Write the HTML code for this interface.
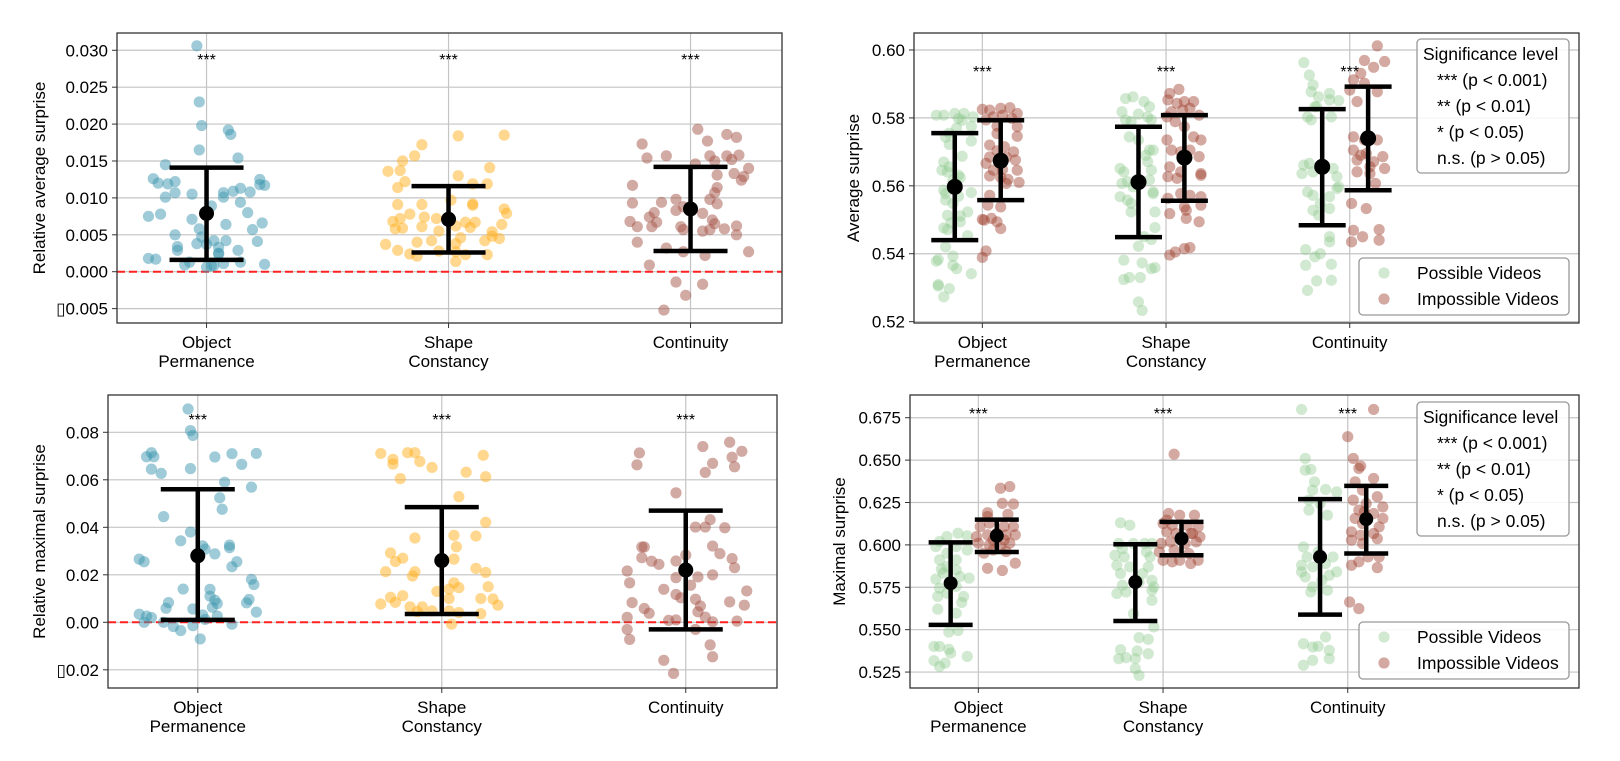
<!DOCTYPE html>
<html><head><meta charset="utf-8"><style>
html,body{margin:0;padding:0;background:#fff;}
svg{display:block;font-family:"Liberation Sans","DejaVu Sans",sans-serif;}
</style></head>
<body>
<svg id="fig" width="1620" height="761" viewBox="0 0 1620 761" xmlns="http://www.w3.org/2000/svg"></svg>
<script>
const categories = [["Object","Permanence"],["Shape","Constancy"],["Continuity"]];
const starLabels = ["***","***","***"];

const p1OpVals = [0.0306,0.0230,0.0198,0.0192,0.0186,0.0165,0.0154,0.0145,0.0126,0.0120,0.0119,0.0122,0.0125,0.0118,0.0117,0.0107,0.0101,0.0105,0.0107,0.0109,0.0113,0.0108,0.0101,0.0094,0.0089,0.0080,0.0075,0.0078,0.0071,0.0064,0.0066,0.0057,0.0058,0.0050,0.0047,0.0038,0.0042,0.0042,0.0041,0.0034,0.0029,0.0037,0.0033,0.0029,0.0025,0.0024,0.0018,0.0017,0.0013,0.0009,0.0006,0.0008,0.0011,0.0013,0.0010,0.0008];
const p1OpJit = [-0.04,-0.03,-0.02,0.09,0.10,-0.03,0.13,-0.17,-0.22,-0.20,-0.16,-0.13,0.22,0.22,0.24,-0.13,-0.17,-0.06,0.07,0.11,0.14,0.18,0.07,0.14,0.02,0.17,-0.24,-0.19,-0.06,0.08,0.23,0.19,-0.03,-0.13,-0.02,-0.04,0.03,0.08,0.21,-0.12,-0.12,0.0,0.05,0.13,0.05,0.05,-0.24,-0.21,-0.07,-0.09,0.0,0.03,0.07,0.14,0.24,0.02];
const p1ScVals = [0.0184,0.0185,0.0172,0.0157,0.0150,0.0136,0.0137,0.0141,0.0130,0.0122,0.0114,0.0119,0.0119,0.0097,0.0091,0.0091,0.0092,0.0090,0.0085,0.0079,0.0078,0.0068,0.0072,0.0074,0.0072,0.0058,0.0059,0.0061,0.0062,0.0067,0.0067,0.0060,0.0064,0.0055,0.0054,0.0048,0.0045,0.0046,0.0037,0.0040,0.0042,0.0038,0.0042,0.0029,0.0024,0.0021,0.0028,0.0027,0.0023,0.0023,0.0014];
const p1ScJit = [0.04,0.23,-0.11,-0.14,-0.19,-0.25,-0.20,0.17,0.04,-0.18,-0.21,0.10,0.16,0.01,-0.21,-0.11,0.10,0.10,0.23,0.24,-0.16,-0.23,-0.20,-0.10,-0.05,-0.22,-0.19,-0.11,0.03,0.07,0.11,0.09,0.22,-0.04,0.18,0.18,0.21,0.05,-0.26,-0.13,-0.07,0.03,0.15,-0.21,-0.16,-0.13,-0.04,0.03,0.07,0.16,0.03];
const p1CoVals = [0.0193,0.0186,0.0182,0.0173,0.0177,0.0154,0.0157,0.0157,0.0150,0.0157,0.0152,0.0158,0.0146,0.0140,0.0131,0.0133,0.0129,0.0124,0.0117,0.0114,0.0107,0.0098,0.0098,0.0094,0.0093,0.0092,0.0083,0.0088,0.0080,0.0079,0.0074,0.0068,0.0067,0.0070,0.0065,0.0061,0.0061,0.0061,0.0057,0.0055,0.0057,0.0058,0.0062,0.0050,0.0040,0.0032,0.0027,0.0022,0.0027,0.0009,-0.0014,-0.0017,-0.0032,-0.0052];
const p1CoJit = [0.03,0.15,0.19,-0.20,0.07,-0.18,-0.10,0.08,0.10,0.15,0.17,0.20,0.02,0.24,0.11,0.18,0.22,0.21,-0.24,0.11,0.10,0.08,-0.06,-0.12,-0.24,0.11,-0.06,-0.03,-0.15,0.05,-0.17,-0.25,-0.14,0.09,0.10,-0.22,-0.16,-0.04,-0.03,0.05,0.08,0.14,0.19,0.19,-0.22,-0.10,-0.03,0.06,0.24,-0.17,-0.06,0.05,-0.02,-0.11];
const p1Means = [0.0079,0.0071,0.0085];
const p1Lo = [0.0016,0.0026,0.0028];
const p1Hi = [0.0141,0.0116,0.0142];

const p3OpVals = [0.0898,0.0807,0.0787,0.0714,0.0697,0.0697,0.0645,0.0627,0.0647,0.0696,0.0710,0.0711,0.0665,0.0590,0.0569,0.0524,0.0476,0.0445,0.0380,0.0343,0.0322,0.0308,0.0288,0.0325,0.0314,0.0255,0.0234,0.0266,0.0255,0.0181,0.0159,0.0140,0.0139,0.0110,0.0093,0.0079,0.0063,0.0083,0.0059,0.0096,0.0082,0.0056,0.0043,0.0034,0.0026,0.0020,0.0000,0.0000,-0.0018,-0.0035,-0.0014,0.0031,0.0012,0.0026,-0.0008,-0.0070];
const p3OpJit = [-0.04,-0.03,-0.02,-0.19,-0.21,-0.18,-0.19,-0.15,-0.03,0.07,0.14,0.24,0.18,0.11,0.22,0.09,0.10,-0.14,-0.03,-0.07,0.02,0.03,0.07,0.13,0.13,0.16,0.14,-0.24,-0.22,0.22,0.23,-0.06,0.05,0.05,0.07,0.08,0.06,-0.12,-0.13,0.21,0.20,-0.02,0.24,-0.24,-0.21,-0.19,-0.22,-0.14,-0.10,-0.07,-0.02,0.02,0.03,0.08,0.14,0.01];
const p3ScVals = [0.0714,0.0714,0.0711,0.0686,0.0666,0.0677,0.0652,0.0703,0.0632,0.0613,0.0605,0.0529,0.0421,0.0355,0.0366,0.0363,0.0318,0.0292,0.0270,0.0256,0.0266,0.0227,0.0210,0.0213,0.0213,0.0195,0.0166,0.0146,0.0150,0.0130,0.0140,0.0105,0.0112,0.0100,0.0100,0.0098,0.0072,0.0077,0.0084,0.0065,0.0065,0.0048,0.0041,0.0036,0.0045,0.0048,-0.0008];
const p3ScJit = [-0.14,-0.11,-0.25,-0.20,-0.20,-0.09,-0.04,0.17,0.10,0.18,-0.17,0.07,0.18,-0.11,0.05,0.14,0.06,-0.21,-0.16,-0.19,0.05,0.14,0.18,-0.23,-0.11,-0.12,0.05,0.07,0.19,-0.02,0.03,-0.21,-0.16,0.03,0.16,0.21,0.23,-0.25,-0.19,-0.13,-0.08,0.03,0.07,0.16,-0.10,-0.04,0.04];
const p3CoVals = [0.0758,0.0740,0.0720,0.0695,0.0713,0.0663,0.0669,0.0631,0.0655,0.0545,0.0432,0.0401,0.0401,0.0398,0.0317,0.0317,0.0321,0.0289,0.0268,0.0230,0.0272,0.0257,0.0244,0.0258,0.0283,0.0216,0.0166,0.0188,0.0191,0.0200,0.0139,0.0117,0.0103,0.0156,0.0097,0.0069,0.0044,0.0086,0.0072,0.0132,0.0083,0.0058,0.0038,0.0021,0.0008,0.0010,0.0022,0.0002,0.0005,-0.0030,-0.0030,-0.0072,-0.0095,-0.0145,-0.0160,-0.0215];
const p3CoJit = [0.18,0.07,0.23,0.19,-0.19,-0.20,0.11,0.08,0.20,-0.04,0.10,0.04,0.08,0.16,-0.18,-0.17,0.11,0.14,0.19,0.20,-0.18,-0.14,-0.11,-0.04,0.0,-0.24,-0.23,-0.04,0.05,0.11,-0.09,-0.04,-0.02,0.02,0.04,0.06,0.05,0.18,0.24,0.25,-0.22,-0.17,-0.15,-0.24,-0.07,-0.04,0.08,0.11,0.21,0.04,-0.24,-0.23,0.10,0.11,-0.09,-0.05];
const p3Means = [0.028,0.026,0.022];
const p3Lo = [0.001,0.0035,-0.003];
const p3Hi = [0.056,0.0485,0.047];

const p2OpPossVals = [0.5808,0.5808,0.5813,0.5813,0.5803,0.5798,0.5793,0.5775,0.5770,0.5755,0.5743,0.5732,0.5722,0.5687,0.5670,0.5656,0.5641,0.5631,0.5624,0.5617,0.5587,0.5577,0.5580,0.5569,0.5558,0.5548,0.5523,0.5511,0.5513,0.5491,0.5476,0.5471,0.5494,0.5453,0.5420,0.5383,0.5378,0.5393,0.5366,0.5356,0.5341,0.5309,0.5305,0.5297,0.5273,0.5646];
const p2OpPossJit = [-0.25,-0.21,-0.15,-0.10,-0.05,-0.13,-0.11,-0.06,-0.14,-0.18,-0.20,-0.06,-0.18,-0.11,-0.21,-0.18,-0.19,-0.13,-0.12,-0.16,-0.21,-0.20,-0.06,-0.13,-0.20,-0.16,-0.08,-0.12,-0.19,-0.17,-0.21,-0.19,-0.12,-0.08,-0.20,-0.24,-0.25,-0.16,-0.16,-0.14,-0.06,-0.24,-0.24,-0.18,-0.21,-0.22];
const p2OpImpVals = [0.5825,0.5823,0.5828,0.5830,0.5813,0.5803,0.5808,0.5794,0.5799,0.5774,0.5776,0.5746,0.5720,0.5715,0.5703,0.5700,0.5685,0.5684,0.5676,0.5668,0.5666,0.5646,0.5648,0.5646,0.5629,0.5625,0.5619,0.5610,0.5607,0.5572,0.5543,0.5538,0.5499,0.5504,0.5494,0.5474,0.5501,0.5408,0.5389,0.5754];
const p2OpImpJit = [0.00,0.04,0.10,0.15,0.19,0.06,0.11,0.02,0.16,0.19,0.08,0.19,0.04,0.12,0.08,0.17,0.04,0.13,0.18,0.09,0.02,0.06,0.11,0.19,0.04,0.10,0.14,0.20,0.13,0.04,0.03,0.10,0.01,0.05,0.08,0.10,0.00,0.02,0.00,0.08];
const p2ScPossVals = [0.5857,0.5862,0.5848,0.5833,0.5818,0.5811,0.5803,0.5794,0.5789,0.5794,0.5744,0.5735,0.5705,0.5705,0.5690,0.5671,0.5651,0.5641,0.5646,0.5612,0.5607,0.5617,0.5582,0.5568,0.5558,0.5548,0.5577,0.5523,0.5523,0.5477,0.5450,0.5442,0.5422,0.5381,0.5373,0.5356,0.5359,0.5324,0.5330,0.5330,0.5258,0.5233,0.5597];
const p2ScPossJit = [-0.22,-0.18,-0.12,-0.09,-0.24,-0.15,-0.10,-0.22,-0.19,-0.08,-0.20,-0.15,-0.09,-0.07,-0.11,-0.10,-0.25,-0.23,-0.08,-0.21,-0.24,-0.09,-0.07,-0.25,-0.21,-0.19,-0.07,-0.19,-0.06,-0.06,-0.12,-0.08,-0.15,-0.23,-0.13,-0.08,-0.06,-0.23,-0.20,-0.14,-0.15,-0.13,-0.18];
const p2ScImpVals = [0.5872,0.5884,0.5853,0.5843,0.5848,0.5848,0.5818,0.5823,0.5828,0.5808,0.5803,0.5789,0.5774,0.5744,0.5735,0.5735,0.5705,0.5700,0.5705,0.5686,0.5656,0.5641,0.5636,0.5627,0.5622,0.5631,0.5577,0.5572,0.5568,0.5563,0.5528,0.5518,0.5504,0.5494,0.5396,0.5405,0.5415,0.5418,0.5543,0.5538];
const p2ScImpJit = [0.02,0.07,0.01,0.06,0.10,0.15,0.03,0.09,0.13,0.18,0.005,0.05,0.10,0.15,0.19,0.005,0.03,0.08,0.13,0.18,0.02,0.08,0.19,0.01,0.06,0.19,0.08,0.13,0.19,0.01,0.11,0.02,0.11,0.18,0.02,0.05,0.10,0.13,0.19,0.10];
const p2CoPossVals = [0.5963,0.5926,0.5897,0.5877,0.5862,0.5872,0.5853,0.5851,0.5833,0.5803,0.5803,0.5833,0.5794,0.5661,0.5666,0.5641,0.5651,0.5627,0.5582,0.5572,0.5568,0.5597,0.5548,0.5528,0.5533,0.5514,0.5450,0.5435,0.5412,0.5400,0.5391,0.5366,0.5369,0.5320,0.5322,0.5292,0.5592,0.5636];
const p2CoPossJit = [-0.25,-0.22,-0.20,-0.21,-0.17,-0.11,-0.11,-0.06,-0.18,-0.23,-0.10,-0.19,-0.21,-0.25,-0.22,-0.20,-0.09,-0.07,-0.23,-0.20,-0.11,-0.06,-0.16,-0.20,-0.11,-0.17,-0.11,-0.11,-0.24,-0.16,-0.19,-0.24,-0.10,-0.18,-0.10,-0.23,-0.07,-0.26];
const p2CoImpVals = [0.6012,0.5969,0.5966,0.5949,0.5931,0.5912,0.5902,0.5882,0.5877,0.5848,0.5744,0.5735,0.5735,0.5705,0.5695,0.5686,0.5676,0.5671,0.5651,0.5641,0.5636,0.5607,0.5548,0.5533,0.5469,0.5471,0.5450,0.5435,0.5440,0.5690,0.5656];
const p2CoImpJit = [0.15,0.08,0.19,0.13,0.06,0.02,0.08,0.00,0.15,0.04,0.02,0.08,0.15,0.02,0.09,0.18,0.04,0.13,0.19,0.04,0.11,0.14,0.01,0.09,0.02,0.16,0.07,0.01,0.16,0.06,0.11];
const p2PossMeans = [0.5597,0.5611,0.5656];
const p2PossLo = [0.5440,0.5449,0.5484];
const p2PossHi = [0.5755,0.5774,0.5826];
const p2ImpMeans = [0.5674,0.5683,0.5740];
const p2ImpLo = [0.5558,0.5556,0.5587];
const p2ImpHi = [0.5793,0.5808,0.5892];

const p4OpPossVals = [0.6069,0.6049,0.6053,0.6020,0.5990,0.5990,0.5951,0.5970,0.5912,0.5912,0.5872,0.5857,0.5853,0.5798,0.5813,0.5804,0.5745,0.5715,0.5755,0.5696,0.5696,0.5660,0.5621,0.5597,0.5486,0.5495,0.5401,0.5401,0.5385,0.5362,0.5342,0.5317,0.5303,0.5283,0.5833];
const p4OpPossJit = [-0.11,-0.17,-0.06,-0.21,-0.23,-0.12,-0.17,-0.06,-0.21,-0.12,-0.17,-0.20,-0.12,-0.23,-0.10,-0.05,-0.21,-0.17,-0.12,-0.22,-0.08,-0.09,-0.22,-0.12,-0.16,-0.11,-0.24,-0.21,-0.16,-0.15,-0.06,-0.24,-0.18,-0.21,-0.19];
const p4OpImpVals = [0.6334,0.6344,0.6190,0.6245,0.6241,0.6108,0.6128,0.6108,0.6108,0.6049,0.6059,0.6069,0.6059,0.6059,0.6010,0.6000,0.5990,0.6010,0.5951,0.5970,0.5961,0.5862,0.5849,0.5892,0.6029,0.6029,0.6167,0.6181];
const p4OpImpJit = [0.12,0.17,0.05,0.13,0.19,0.01,0.06,0.14,0.19,-0.01,0.05,0.10,0.15,0.20,0.00,0.06,0.12,0.17,0.03,0.08,0.15,0.05,0.13,0.20,0.08,0.14,0.05,0.16];
const p4ScPossVals = [0.6130,0.6116,0.6008,0.6008,0.6008,0.6008,0.5978,0.5959,0.5939,0.5929,0.5929,0.5880,0.5870,0.5870,0.5831,0.5791,0.5781,0.5762,0.5752,0.5713,0.5722,0.5673,0.5594,0.5516,0.5453,0.5443,0.5382,0.5374,0.5358,0.5329,0.5335,0.5329,0.5270,0.5230,0.5732,0.5831];
const p4ScPossJit = [-0.23,-0.18,-0.24,-0.16,-0.10,-0.06,-0.22,-0.09,-0.26,-0.21,-0.07,-0.25,-0.18,-0.08,-0.23,-0.06,-0.13,-0.22,-0.05,-0.25,-0.20,-0.06,-0.16,-0.05,-0.13,-0.08,-0.23,-0.14,-0.08,-0.24,-0.20,-0.15,-0.15,-0.13,-0.06,-0.11];
const p4ScImpVals = [0.6535,0.6185,0.6175,0.6175,0.6126,0.6116,0.6116,0.6106,0.6077,0.6067,0.6067,0.6047,0.6008,0.6018,0.6008,0.6018,0.5909,0.5900,0.5909,0.5890,0.5909,0.5959,0.5969,0.5949,0.6146,0.6067];
const p4ScImpJit = [0.06,0.03,0.09,0.17,0.00,0.05,0.13,0.19,0.02,0.07,0.15,0.20,-0.01,0.04,0.12,0.18,0.00,0.05,0.09,0.15,0.19,-0.02,0.06,0.14,0.02,0.16];
const p4CoPossVals = [0.6799,0.6510,0.6441,0.6445,0.6372,0.6323,0.6327,0.6313,0.6264,0.6244,0.6175,0.6205,0.5988,0.5929,0.5880,0.5870,0.5890,0.5929,0.5841,0.5811,0.5791,0.5821,0.5752,0.5732,0.5722,0.5457,0.5417,0.5398,0.5402,0.5378,0.5329,0.5319,0.5290,0.5841,0.5959];
const p4CoPossJit = [-0.25,-0.23,-0.23,-0.20,-0.18,-0.19,-0.12,-0.06,-0.21,-0.15,-0.11,-0.21,-0.24,-0.22,-0.25,-0.19,-0.12,-0.08,-0.06,-0.23,-0.14,-0.10,-0.19,-0.11,-0.20,-0.12,-0.24,-0.19,-0.16,-0.10,-0.10,-0.19,-0.24,-0.25,-0.16];
const p4CoImpVals = [0.6799,0.6638,0.6510,0.6451,0.6465,0.6392,0.6372,0.6323,0.6284,0.6264,0.6244,0.6224,0.6205,0.6185,0.6156,0.6156,0.6126,0.6106,0.6077,0.6057,0.6067,0.6028,0.6008,0.6037,0.5929,0.5929,0.5900,0.5880,0.5866,0.5663,0.5624,0.6195];
const p4CoImpJit = [0.14,0.00,0.03,0.06,0.07,0.14,0.04,0.08,0.16,0.03,0.10,0.19,0.06,0.14,0.04,0.19,0.08,0.17,0.02,0.07,0.14,0.02,0.08,0.16,0.11,0.17,0.06,0.02,0.16,0.01,0.06,0.09];
const p4PossMeans = [0.5774,0.5781,0.5929];
const p4PossLo = [0.5528,0.5551,0.5589];
const p4PossHi = [0.6015,0.6004,0.6270];
const p4ImpMeans = [0.6054,0.6037,0.6152];
const p4ImpLo = [0.5958,0.5939,0.5949];
const p4ImpHi = [0.6149,0.6136,0.6348];

const p1Ticks = [-0.005,0.000,0.005,0.010,0.015,0.020,0.025,0.030];
const p3Ticks = [-0.02,0.00,0.02,0.04,0.06,0.08];
const p2Ticks = [0.52,0.54,0.56,0.58,0.60];
const p4Ticks = [0.525,0.550,0.575,0.600,0.625,0.650,0.675];
const sigLegendRows = ["*** (p < 0.001)","** (p < 0.01)","* (p < 0.05)","n.s. (p > 0.05)"];
const groupLegendRows = ["Possible Videos","Impossible Videos"];

const NS = "http://www.w3.org/2000/svg";
const svg = document.getElementById("fig");
function mk(tag, parent, attrs){
  const el = document.createElementNS(NS, tag);
  for (const k in attrs) el.setAttribute(k, attrs[k]);
  parent.appendChild(el);
  return el;
}
function fmtTick(v, d){
  return (v < 0 ? "\u25AF" : "") + Math.abs(v).toFixed(d);
}

function makePanel(name, cfg){
  const g = mk("g", svg, {});
  
  
  const sx = c => cfg.left + (c - cfg.xmin) / (cfg.xmax - cfg.xmin) * (cfg.right - cfg.left);
  const sy = v => cfg.bottom - (v - cfg.ymin) / (cfg.ymax - cfg.ymin) * (cfg.bottom - cfg.top);
  cfg.ticks.forEach(t => {
    const y = sy(t);
    const gl = mk("line", g, {x1:cfg.left, x2:cfg.right, y1:y, y2:y, stroke:"#c4c4c4", "stroke-width":1.2});
    
    
    const tk = mk("line", g, {x1:cfg.left-5, x2:cfg.left, y1:y, y2:y, stroke:"#333", "stroke-width":1});
    
    
    const tl = mk("text", g, {x:cfg.left-9, y:y+6, "text-anchor":"end", "font-size":17, fill:"#000"});
    
    
    tl.textContent = fmtTick(t, cfg.dec);
  });
  categories.forEach((lines, i) => {
    const x = sx(i);
    const gl = mk("line", g, {x1:x, x2:x, y1:cfg.top, y2:cfg.bottom, stroke:"#c4c4c4", "stroke-width":1.2});
    
    
    const tk = mk("line", g, {x1:x, x2:x, y1:cfg.bottom, y2:cfg.bottom+5, stroke:"#333", "stroke-width":1});
    
    
    lines.forEach((ln, j) => {
      const tl = mk("text", g, {x:x, y:cfg.bottom+25+j*19, "text-anchor":"middle", "font-size":17, fill:"#000"});
      
      
      tl.textContent = ln;
    });
  });
  if (cfg.zeroLine){
    const z = mk("line", g, {x1:cfg.left, x2:cfg.right, y1:sy(0), y2:sy(0), stroke:"#ff2020", "stroke-width":2, "stroke-dasharray":"8,4"});
    
    
  }
  const yl = mk("text", g, {x:0, y:0, "text-anchor":"middle", "font-size":17, fill:"#000",
     transform:"translate(" + cfg.ylabelX + "," + ((cfg.top+cfg.bottom)/2) + ") rotate(-90)"});
  
  
  yl.textContent = cfg.ylabel;
  cfg.groups.forEach(gr => {
    gr.vals.forEach((arr, ci) => {
      arr.forEach((v, k) => {
        const c = mk("circle", g, {cx:sx(ci + gr.jit[ci][k]), cy:sy(v), r:5.6, fill:gr.colors[ci], "fill-opacity":gr.op});
        
        
      });
    });
  });
  cfg.bars.forEach(b => {
    b.means.forEach((m, ci) => {
      const x = sx(ci + b.off);
      const eg = mk("g", g, {});
      
      
      const l1 = mk("line", eg, {x1:x, x2:x, y1:sy(b.lo[ci]), y2:sy(b.hi[ci]), stroke:"#000", "stroke-width":4.5});
      
      
      [b.lo[ci], b.hi[ci]].forEach(v => {
        const cap = mk("line", eg, {x1:x-b.cap, x2:x+b.cap, y1:sy(v), y2:sy(v), stroke:"#000", "stroke-width":4.5});
        
        
      });
      const dot = mk("circle", eg, {cx:x, cy:sy(m), r:b.r, fill:"#000"});
      
      
    });
  });
  starLabels.forEach((s, ci) => {
    const t = mk("text", g, {x:sx(ci), y:sy(cfg.starY)+8, "text-anchor":"middle", "font-size":16, fill:"#000"});
    
    
    t.textContent = s;
  });
  const fr = mk("rect", g, {x:cfg.left, y:cfg.top, width:cfg.right-cfg.left, height:cfg.bottom-cfg.top, fill:"none", stroke:"#333", "stroke-width":1.3});
  
  
  return g;
}

function legends(g, sigTop, sigBottom, grpTop, grpBottom){
  const box = mk("rect", g, {x:1417, y:sigTop, width:152, height:sigBottom-sigTop, rx:4, fill:"#fff", "fill-opacity":0.85, stroke:"#999", "stroke-width":1.3});
  
  
  const tt = mk("text", g, {x:1423, y:sigTop+21, "font-size":17.5, fill:"#000"});
  
  
  tt.textContent = "Significance level";
  sigLegendRows.forEach((r, i) => {
    const t = mk("text", g, {x:1437, y:sigTop+47+i*26, "font-size":17.5, fill:"#000"});
    
    
    t.textContent = r;
  });
  const b2 = mk("rect", g, {x:1359, y:grpTop, width:210, height:grpBottom-grpTop, rx:4, fill:"#fff", "fill-opacity":0.85, stroke:"#999", "stroke-width":1.3});
  
  
  const cols = [["#8bc98b",0.4],["#a0402f",0.45]];
  groupLegendRows.forEach((r, i) => {
    const cy = grpTop + 15 + i*26;
    const m = mk("circle", g, {cx:1384, cy:cy, r:5.6, fill:cols[i][0], "fill-opacity":cols[i][1]});
    
    
    const t = mk("text", g, {x:1417, y:cy+6, "font-size":17.5, fill:"#000"});
    
    
    t.textContent = r;
  });
}

const leftColors = ["#3d98b0","#ffb020","#a5564a"];
const poss = ["#8bc98b","#8bc98b","#8bc98b"];
const imp = ["#a0402f","#a0402f","#a0402f"];

makePanel("relative-average-surprise-chart", {
  left:117, right:782, top:33, bottom:323, xmin:-0.37, xmax:2.378,
  ymin:-0.00695, ymax:0.03234, ticks:p1Ticks, dec:3, zeroLine:true,
  ylabel:"Relative average surprise", ylabelX:45, starY:0.0291,
  groups:[{vals:[p1OpVals,p1ScVals,p1CoVals], jit:[p1OpJit,p1ScJit,p1CoJit], colors:leftColors, op:0.5, pointName:'data-point'}],
  bars:[{means:p1Means, lo:p1Lo, hi:p1Hi, off:0, cap:37, r:7.5, name:'error-bar'}]
});
makePanel("relative-maximal-surprise-chart", {
  left:108, right:777, top:395, bottom:688, xmin:-0.368, xmax:2.374,
  ymin:-0.02766, ymax:0.0957, ticks:p3Ticks, dec:2, zeroLine:true,
  ylabel:"Relative maximal surprise", ylabelX:45, starY:0.0865,
  groups:[{vals:[p3OpVals,p3ScVals,p3CoVals], jit:[p3OpJit,p3ScJit,p3CoJit], colors:leftColors, op:0.5, pointName:'data-point'}],
  bars:[{means:p3Means, lo:p3Lo, hi:p3Hi, off:0, cap:37, r:7.5, name:'error-bar'}]
});
const g2 = makePanel("average-surprise-chart", {
  left:914, right:1579, top:33, bottom:323, xmin:-0.372, xmax:3.248,
  ymin:0.5196, ymax:0.6050, ticks:p2Ticks, dec:2, zeroLine:false,
  ylabel:"Average surprise", ylabelX:859, starY:0.5944,
  groups:[
    {vals:[p2OpPossVals,p2ScPossVals,p2CoPossVals], jit:[p2OpPossJit,p2ScPossJit,p2CoPossJit], colors:poss, op:0.4, pointName:'possible-point'},
    {vals:[p2OpImpVals,p2ScImpVals,p2CoImpVals], jit:[p2OpImpJit,p2ScImpJit,p2CoImpJit], colors:imp, op:0.45, pointName:'impossible-point'}
  ],
  bars:[
    {means:p2PossMeans, lo:p2PossLo, hi:p2PossHi, off:-0.15, cap:23.5, r:8, name:'possible-error-bar'},
    {means:p2ImpMeans, lo:p2ImpLo, hi:p2ImpHi, off:0.10, cap:23.5, r:8, name:'impossible-error-bar'}
  ]
});
legends(g2, 39, 173, 258, 315);
const g4 = makePanel("maximal-surprise-chart", {
  left:910, right:1579, top:395, bottom:688, xmin:-0.37, xmax:3.252,
  ymin:0.5156, ymax:0.6884, ticks:p4Ticks, dec:3, zeroLine:false,
  ylabel:"Maximal surprise", ylabelX:845, starY:0.679,
  groups:[
    {vals:[p4OpPossVals,p4ScPossVals,p4CoPossVals], jit:[p4OpPossJit,p4ScPossJit,p4CoPossJit], colors:poss, op:0.4, pointName:'possible-point'},
    {vals:[p4OpImpVals,p4ScImpVals,p4CoImpVals], jit:[p4OpImpJit,p4ScImpJit,p4CoImpJit], colors:imp, op:0.45, pointName:'impossible-point'}
  ],
  bars:[
    {means:p4PossMeans, lo:p4PossLo, hi:p4PossHi, off:-0.15, cap:22, r:7, name:'possible-error-bar'},
    {means:p4ImpMeans, lo:p4ImpLo, hi:p4ImpHi, off:0.10, cap:22, r:7, name:'impossible-error-bar'}
  ]
});
legends(g4, 402, 536, 622, 679);
</script>
</body></html>
